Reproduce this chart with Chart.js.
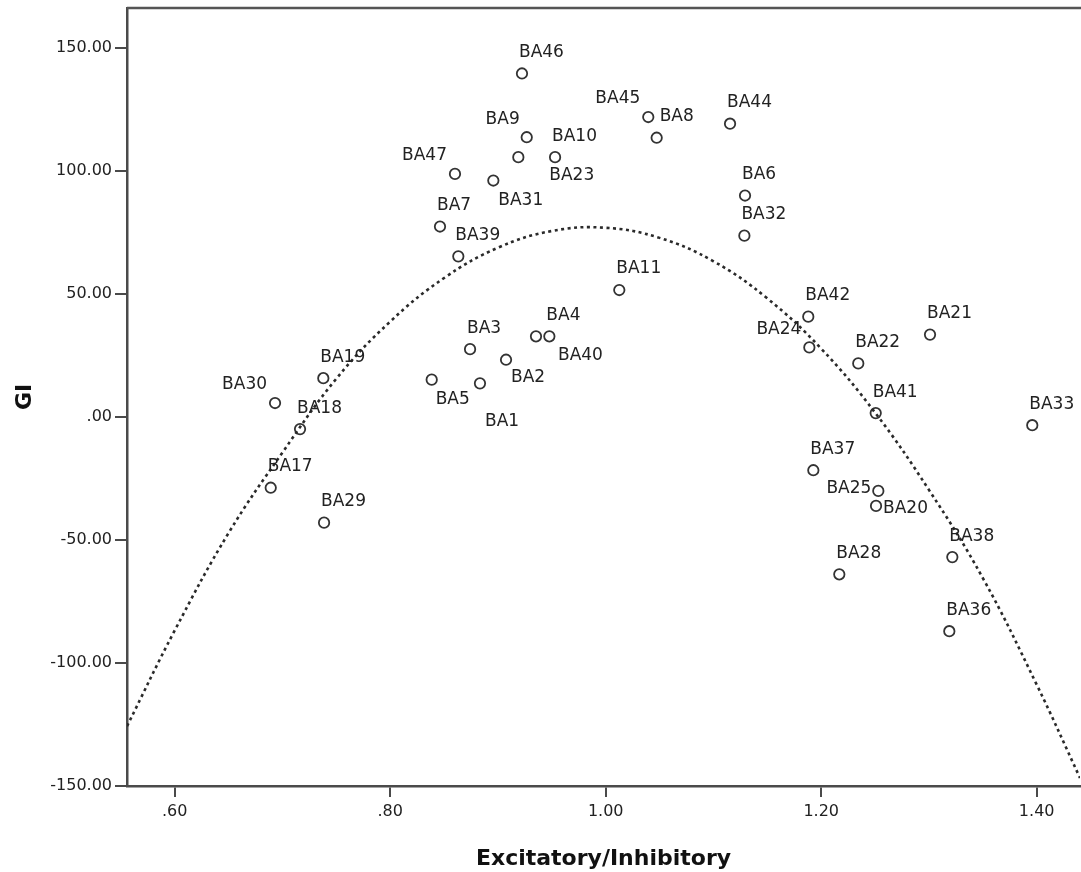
<!DOCTYPE html>
<html>
<head>
<meta charset="utf-8">
<script src="https://cdn.jsdelivr.net/npm/chart.js@4.4.1/dist/chart.umd.min.js"></script>
<style>
html,body{margin:0;padding:0;background:#fff;overflow:hidden;}
#wrap{width:1081px;height:872px;position:relative;}
canvas{display:block;}
</style>
</head>
<body>
<div id="wrap"><canvas id="c" width="1081" height="872"></canvas></div>
<script>
// ---- data ----
const pointNames = ['BA46','BA45','BA8','BA44','BA9','BA10','BA23','BA47','BA31','BA7','BA39','BA6','BA32','BA11',
  'BA4','BA40','BA3','BA2','BA5','BA1','BA19','BA30','BA18','BA17','BA29',
  'BA42','BA24','BA22','BA21','BA41','BA33','BA37','BA25','BA20','BA38','BA28','BA36'];
const ratioValues = [0.9223,1.0395,1.0473,1.1154,0.9267,0.9530,0.9189,0.8601,0.8957,0.8462,0.8632,1.1293,1.1287,1.0126,
  0.9477,0.9353,0.8741,0.9075,0.8385,0.8833,0.7379,0.6931,0.7163,0.6891,0.7386,
  1.1880,1.1890,1.2344,1.3010,1.2506,1.3959,1.1927,1.2530,1.2509,1.3217,1.2168,1.3189];
const giValues = [139.5,121.8,113.4,119.1,113.6,105.5,105.5,98.7,96.0,77.3,65.2,89.9,73.6,51.5,
  32.7,32.7,27.5,23.2,15.1,13.6,15.7,5.6,-5.0,-28.8,-43.0,
  40.7,28.2,21.7,33.4,1.5,-3.4,-21.7,-30.1,-36.2,-57.0,-64.0,-87.1];
// quadratic fit line
const fitX = [0.5557,0.60,0.65,0.70,0.75,0.80,0.85,0.90,0.95,1.00,1.05,1.10,1.15,1.20,1.25,1.30,1.35,1.40,1.4402];
const fitY = [-125.7,-86.8,-47.2,-14.5,15.5,38.7,56.4,68.7,75.5,76.8,72.7,63.2,48.1,27.7,1.7,-29.7,-65.5,-108.8,-146.7];
const xTickValues = [0.6,0.8,1.0,1.2,1.4];
const xTickLabels = ['.60','.80','1.00','1.20','1.40'];
const yTickValues = [-150,-100,-50,0,50,100,150];
const yTickLabels = ['-150.00','-100.00','-50.00','.00','50.00','100.00','150.00'];
const xRange = [0.5557, 1.4402];
const yRange = [-150, 166.1];
const xTitle = 'Excitatory/Inhibitory';
const yTitle = 'GI';

// ---- plugins ----
const pointLabelPlugin = {
  id: 'pointLabels',
  afterDatasetsDraw(chart, args, opts) {
    const meta = chart.getDatasetMeta(0);
    const ctx = chart.ctx;
    ctx.save();
    ctx.font = opts.font;
    ctx.fillStyle = opts.color;
    ctx.textBaseline = 'middle';
    meta.data.forEach((el, i) => {
      const name = pointNames[i];
      const p = opts.placement[name] || opts.defaultPlacement;
      ctx.textAlign = p[2] || 'left';
      ctx.fillText(name, el.x + p[0], el.y + p[1]);
    });
    ctx.restore();
  }
};
const framePlugin = {
  id: 'frame',
  afterDraw(chart, args, opts) {
    const a = chart.chartArea, ctx = chart.ctx;
    ctx.save();
    ctx.strokeStyle = opts.color;
    ctx.lineWidth = opts.width;
    ctx.beginPath();
    ctx.moveTo(a.left, a.top);
    ctx.lineTo(chart.width, a.top);
    ctx.stroke();
    ctx.restore();
  }
};

const scatterData = pointNames.map((n, i) => ({x: ratioValues[i], y: giValues[i]}));
const fitData = fitX.map((x, i) => ({x: x, y: fitY[i]}));

const axisColor = '#4a4a4a';
const textColor = '#222';

new Chart(document.getElementById('c'), {
  type: 'scatter',
  data: {
    datasets: [
      {
        label: 'GI',
        data: scatterData,
        pointStyle: 'circle',
        pointRadius: 5.2,
        pointBorderWidth: 1.8,
        borderColor: '#333',
        backgroundColor: 'rgba(0,0,0,0)',
        order: 1
      },
      {
        label: 'Quadratic fit',
        type: 'line',
        data: fitData,
        showLine: true,
        pointRadius: 0,
        borderColor: '#2a2a2a',
        borderWidth: 2.6,
        borderDash: [3, 3.5],
        tension: 0.4,
        fill: false,
        order: 0
      }
    ]
  },
  options: {
    responsive: false,
    animation: false,
    events: [],
    devicePixelRatio: 1,
    layout: { autoPadding: false, padding: { top: 8, right: 1, left: 0, bottom: 0 } },
    plugins: {
      legend: { display: false },
      tooltip: { enabled: false },
      pointLabels: {
        font: '17px "DejaVu Sans"',
        color: textColor,
        defaultPlacement: [-3, -21, 'left'],
        placement: {
          BA45: [-8, -18, 'right'],
          BA47: [-8, -18, 'right'],
          BA30: [-8, -18, 'right'],
          BA24: [-8, -18, 'right'],
          BA9:  [-7, -18, 'right'],
          BA25: [-7, -2.5, 'right'],
          BA8:  [3, -21.5, 'left'],
          BA31: [5, 20, 'left'],
          BA40: [22, 19, 'left'],
          BA2:  [5, 18, 'left'],
          BA5:  [4, 20, 'left'],
          BA1:  [5, 38, 'left'],
          BA20: [7, 3, 'left'],
          BA23: [31, 18, 'left']
        }
      },
      frame: { color: '#555', width: 2.5 }
    },
    scales: {
      x: {
        type: 'linear',
        min: xRange[0],
        max: xRange[1],
        afterBuildTicks: s => { s.ticks = xTickValues.map(v => ({value: v})); },
        afterFit: s => { s.height = 86; s.paddingLeft = 0; s.paddingRight = 0; },
        grid: { drawOnChartArea: false, drawTicks: true, tickLength: 11, color: axisColor, lineWidth: 2 },
        border: { display: true, color: axisColor, width: 2.5 },
        ticks: {
          padding: 5,
          color: textColor,
          font: { family: '"DejaVu Sans"', size: 16 },
          maxRotation: 0,
          autoSkip: false,
          callback: (v, i) => xTickLabels[i]
        },
        title: {
          display: true,
          text: xTitle,
          color: '#111',
          font: { family: '"DejaVu Sans"', size: 22, weight: 'bold' },
          padding: { top: 7, bottom: 0 }
        }
      },
      y: {
        type: 'linear',
        min: yRange[0],
        max: yRange[1],
        afterBuildTicks: s => { s.ticks = yTickValues.map(v => ({value: v})); },
        afterFit: s => { s.width = 127; s.paddingTop = 0; s.paddingBottom = 0; },
        grid: { drawOnChartArea: false, drawTicks: true, tickLength: 12, color: axisColor, lineWidth: 2 },
        border: { display: true, color: axisColor, width: 2.5 },
        ticks: {
          padding: 3,
          color: textColor,
          font: { family: '"DejaVu Sans"', size: 16 },
          autoSkip: false,
          callback: (v, i) => yTickLabels[i]
        },
        title: {
          display: true,
          text: yTitle,
          color: '#111',
          font: { family: '"DejaVu Sans"', size: 22, weight: 'bold' },
          padding: { top: 12, bottom: 0 }
        }
      }
    }
  },
  plugins: [pointLabelPlugin, framePlugin]
});
</script>
</body>
</html>
